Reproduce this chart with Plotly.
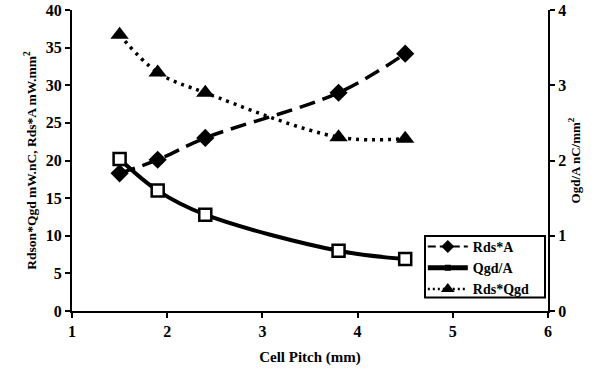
import plotly.graph_objects as go

pitch = [1.5, 1.9, 2.4, 3.8, 4.5]
rds_a = [18.3, 20.1, 23.0, 29.0, 34.2]
qgd_a = [2.02, 1.60, 1.28, 0.80, 0.69]
rds_qgd = [36.7, 31.7, 29.0, 23.1, 22.9]

x_ticks = [1, 2, 3, 4, 5, 6]
y_ticks = [0, 5, 10, 15, 20, 25, 30, 35, 40]
y2_ticks = [0, 1, 2, 3, 4]

FONT = "Liberation Serif"

def bold(vals):
    return ["<b>%s</b>" % v for v in vals]

fig = go.Figure()
fig.add_trace(go.Scatter(
    x=pitch, y=rds_a, name="Rds*A", mode="lines+markers", showlegend=False,
    line=dict(color="black", width=3.5, dash="16px,8px", shape="spline", smoothing=1),
    marker=dict(symbol="diamond", size=14, color="black"),
))
fig.add_trace(go.Scatter(
    x=pitch, y=qgd_a, name="Qgd/A", mode="lines+markers", yaxis="y2", showlegend=False,
    line=dict(color="black", width=4, shape="spline", smoothing=1),
    marker=dict(symbol="square", size=12, color="white", line=dict(color="black", width=2.5)),
))
fig.add_trace(go.Scatter(
    x=pitch, y=rds_qgd, name="Rds*Qgd", mode="lines+markers", showlegend=False,
    line=dict(color="black", width=3.5, dash="3px,5px", shape="spline", smoothing=1),
    marker=dict(symbol="triangle-up", size=16, color="black"),
))

# legend-only entries (smaller legend symbols, as in the reference)
fig.add_trace(go.Scatter(
    x=[None], y=[None], name="<b>Rds*A</b>", mode="lines+markers",
    line=dict(color="black", width=2, dash="8px,4px"),
    marker=dict(symbol="diamond", size=10, color="black"),
))
fig.add_trace(go.Scatter(
    x=[None], y=[None], name="<b>Qgd/A</b>", mode="lines+markers",
    line=dict(color="black", width=5),
    marker=dict(symbol="square", size=6, color="black"),
))
fig.add_trace(go.Scatter(
    x=[None], y=[None], name="<b>Rds*Qgd</b>", mode="lines+markers",
    line=dict(color="black", width=2.5, dash="2px,3px"),
    marker=dict(symbol="triangle-up", size=12, color="black"),
))

tickfont = dict(family=FONT, size=16, color="black")

axis_common = dict(showgrid=False, zeroline=False, showline=True, automargin=False,
                   linecolor="black", linewidth=2, ticks="outside",
                   ticklen=5, tickwidth=2, tickcolor="black", tickfont=tickfont)

fig.update_layout(
    width=597, height=372,
    margin=dict(l=72, r=49, t=10, b=61),
    paper_bgcolor="white", plot_bgcolor="white",
    font=dict(family=FONT, color="black"),
    xaxis=dict(range=[1, 6], tickvals=x_ticks, ticktext=bold(x_ticks), **axis_common,
               title=dict(text="<b>Cell Pitch (mm)</b>", font=dict(family=FONT, size=15, color="black"), standoff=12)),
    yaxis=dict(range=[0, 40], tickvals=y_ticks, ticktext=bold(y_ticks), **axis_common,
               title=dict(text="<b>Rdson*Qgd mW.nC, Rds*A mW.mm<sup>2</sup></b>", font=dict(family=FONT, size=13.5, color="black"), standoff=6)),
    yaxis2=dict(range=[0, 4], tickvals=y2_ticks, ticktext=bold(y2_ticks), overlaying="y", side="right", **axis_common,
                title=dict(text="<b>Ogd/A nC/mm<sup>2</sup></b>", font=dict(family=FONT, size=13, color="black"), standoff=4)),
    legend=dict(x=0.737, y=0.02, xanchor="left", yanchor="bottom",
                borderwidth=0, bgcolor="rgba(0,0,0,0)",
                font=dict(family=FONT, size=14, color="black"),
                tracegroupgap=0, itemwidth=40),
    shapes=[dict(type="rect", xref="paper", yref="paper",
                 x0=0.7416, x1=0.9937, y0=0.045, y1=0.249,
                 line=dict(color="black", width=2), fillcolor="white", layer="above")],
    showlegend=True,
)

fig.write_html("out.html", config={"displayModeBar": False},
               post_script="document.body.style.margin='0';")
